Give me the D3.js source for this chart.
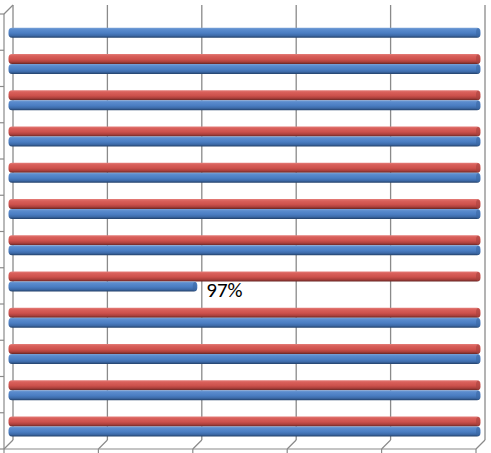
<!DOCTYPE html>
<html><head><meta charset="utf-8">
<script src="https://cdn.jsdelivr.net/npm/d3@7"></script>
<style>html,body{margin:0;padding:0;background:#fff;}svg{display:block;}</style>
</head><body>
<svg id="chart" width="491" height="453"></svg>
<script>
const categories = ["C1","C2","C3","C4","C5","C6","C7","C8","C9","C10","C11","C12"];
const blueValues = [1.00,1.00,1.00,1.00,1.00,1.00,1.00,0.97,1.00,1.00,1.00,1.00];
const redValues  = [null,1.00,1.00,1.00,1.00,1.00,1.00,1.00,1.00,1.00,1.00,1.00];
const xTicks = [0.95,0.96,0.97,0.98,0.99,1.00];
const labelled = [{cat:"C8", series:"blue", text:"97%"}];

const svg = d3.select("#chart");
const dx = 9, dy = 9;              // 3D depth offset
const frontLeft = 4, frontRight = 476, frontTop = 14, frontBottom = 449;

const xBack = d3.scaleLinear().domain([0.95,1.00]).range([frontLeft+dx, frontRight+dx]);
const xBar  = d3.scaleLinear().domain([0.95,1.00]).range([frontLeft+dx/2, frontRight+dx/2]);
const y = d3.scaleBand().domain(categories).range([frontTop, frontBottom]).padding(0);

const defs = svg.append("defs");
function grad(id, stops){
  const g = defs.append("linearGradient").attr("id", id).attr("x1",0).attr("y1",0).attr("x2",0).attr("y2",1);
  stops.forEach(s => g.append("stop").attr("offset", s[0]).attr("stop-color", s[1]));
}
grad("gBlue", [[0,"#7aa3d8"],[0.2,"#5a8bcd"],[0.55,"#4a7dc2"],[0.8,"#3d6aa8"],[1,"#24426b"]]);
grad("gRed",  [[0,"#e5807c"],[0.2,"#d9605b"],[0.55,"#cd514c"],[0.8,"#ab403c"],[1,"#6a2725"]]);

const gridColor = "#8a8a8a";
svg.append("g").selectAll("line").data(xTicks).join("line")
  .attr("x1", d => xBack(d)).attr("x2", d => xBack(d))
  .attr("y1", frontTop - dy).attr("y2", frontBottom - dy)
  .attr("stroke", gridColor).attr("stroke-width", 1.3);
svg.append("g").selectAll("line").data(xTicks).join("line")
  .attr("x1", d => xBack(d)).attr("y1", frontBottom - dy)
  .attr("x2", d => xBack(d) - dx).attr("y2", frontBottom)
  .attr("stroke", gridColor).attr("stroke-width", 1.2);
svg.append("line").attr("x1", frontLeft).attr("x2", frontRight)
  .attr("y1", frontBottom).attr("y2", frontBottom).attr("stroke", gridColor).attr("stroke-width", 1.2);
svg.append("g").selectAll("line").data(xTicks).join("line")
  .attr("x1", d => xBack(d) - dx).attr("x2", d => xBack(d) - dx)
  .attr("y1", frontBottom).attr("y2", frontBottom + 5)
  .attr("stroke", gridColor).attr("stroke-width", 1.2);
svg.append("line").attr("x1", frontLeft).attr("x2", frontLeft)
  .attr("y1", frontTop).attr("y2", frontBottom).attr("stroke", gridColor).attr("stroke-width", 1.2);
svg.append("line").attr("x1", frontLeft).attr("y1", frontTop)
  .attr("x2", frontLeft + dx).attr("y2", frontTop - dy).attr("stroke", gridColor).attr("stroke-width", 1.2);
const bounds = categories.map(c => y(c)).concat([frontBottom]);
svg.append("g").selectAll("line").data(bounds).join("line")
  .attr("x1", 0).attr("x2", frontLeft)
  .attr("y1", d => d).attr("y2", d => d)
  .attr("stroke", gridColor).attr("stroke-width", 1.2);

const barH = 10;
const sep = 5;
function barY(cat, series){
  const c = y(cat) + y.bandwidth()/2 - dy/2 + (series === "blue" ? sep : -sep);
  return c - barH/2;
}
const rows = [];
categories.forEach((c,i) => {
  if (redValues[i] != null) rows.push({cat:c, series:"red", v:redValues[i]});
  if (blueValues[i] != null) rows.push({cat:c, series:"blue", v:blueValues[i]});
});
const gBars = svg.append("g");
gBars.selectAll("rect.bar").data(rows).join("rect").attr("class","bar")
  .attr("x", xBar(0.95))
  .attr("y", d => barY(d.cat, d.series))
  .attr("width", d => xBar(d.v) - xBar(0.95))
  .attr("height", barH)
  .attr("rx", 3.5).attr("ry", 4)
  .attr("fill", d => d.series === "blue" ? "url(#gBlue)" : "url(#gRed)");
gBars.selectAll("ellipse").data(rows).join("ellipse")
  .attr("cx", d => xBar(d.v) - 2.5)
  .attr("cy", d => barY(d.cat, d.series) + barH/2)
  .attr("rx", 2).attr("ry", barH/2 - 0.5)
  .attr("fill", d => d.series === "blue" ? "#3a67a3" : "#a8423f")
  .attr("opacity", 0.6);

labelled.forEach(l => {
  const i = categories.indexOf(l.cat);
  const v = l.series === "blue" ? blueValues[i] : redValues[i];
  svg.append("text")
    .attr("x", xBar(v) + 9)
    .attr("y", barY(l.cat, l.series) + barH/2 + 10.5)
    .attr("font-family", "Carlito, 'Liberation Sans', Arial, sans-serif")
    .attr("font-size", 21)
    .attr("fill", "#000")
    .text(l.text);
});
</script>
</body></html>
